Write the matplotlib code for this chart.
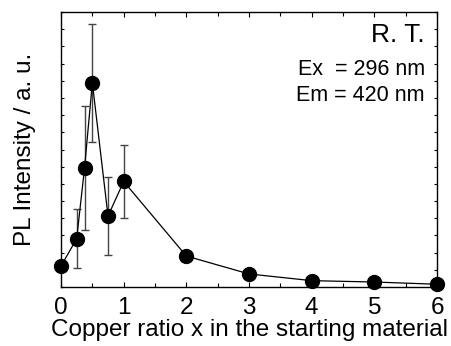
import matplotlib
matplotlib.use('Agg')
import matplotlib.pyplot as plt
from matplotlib.ticker import MultipleLocator, NullFormatter

plt.rcParams['font.family'] = ['Liberation Sans', 'DejaVu Sans']

# 数据
copper_ratio = [0, 0.25, 0.375, 0.5, 0.75, 1, 2, 3, 4, 5, 6]
intensity = [1.22, 2.81, 6.92, 11.88, 4.13, 6.14, 1.80, 0.76, 0.37, 0.29, 0.16]
error = [0, 1.70, 3.60, 3.43, 2.25, 2.13, 0, 0, 0, 0, 0]

fig = plt.figure(figsize=(4.51, 3.46), dpi=100)
ax = fig.add_axes([0.1353, 0.1705, 0.969 - 0.1353, 0.9653 - 0.1705])

# 误差棒
err_x = [x for x, e in zip(copper_ratio, error) if e > 0]
err_y = [y for y, e in zip(intensity, error) if e > 0]
err_e = [e for e in error if e > 0]
ax.errorbar(err_x, err_y, yerr=err_e, fmt='none', ecolor='#444444',
            elinewidth=1.0, capsize=3, capthick=1.0, zorder=2)

# 折线和点
ax.plot(copper_ratio, intensity, color='black', linewidth=0.9, zorder=3)
ax.plot(copper_ratio, intensity, 'o', color='black', markersize=10,
        linestyle='none', zorder=4, clip_on=False)

ax.set_xlim(0, 6)
ax.set_ylim(0, 16)
ax.xaxis.set_major_locator(MultipleLocator(1))
ax.xaxis.set_minor_locator(MultipleLocator(0.5))
ax.yaxis.set_major_locator(MultipleLocator(1))
ax.yaxis.set_major_formatter(NullFormatter())

ax.tick_params(which='both', direction='in', top=True, right=True, width=0.8)
ax.tick_params(which='major', length=3.5, labelsize=17.5, pad=7)
ax.tick_params(which='minor', length=3)
ax.tick_params(axis='y', length=2.5)

for sp in ax.spines.values():
    sp.set_linewidth(1.0)

ax.set_xlabel('Copper ratio x in the starting material', fontsize=17.5, labelpad=0)
ax.set_ylabel('PL Intensity / a. u.', fontsize=17.5, labelpad=11)

ax.text(0.968, 0.892, 'R. T.', transform=ax.transAxes, ha='right', va='baseline', fontsize=19)
ax.text(0.968, 0.771, 'Ex  = 296 nm', transform=ax.transAxes, ha='right', va='baseline', fontsize=15.5)
ax.text(0.968, 0.677, 'Em = 420 nm', transform=ax.transAxes, ha='right', va='baseline', fontsize=15.5)

plt.savefig('out.png', dpi=100)
